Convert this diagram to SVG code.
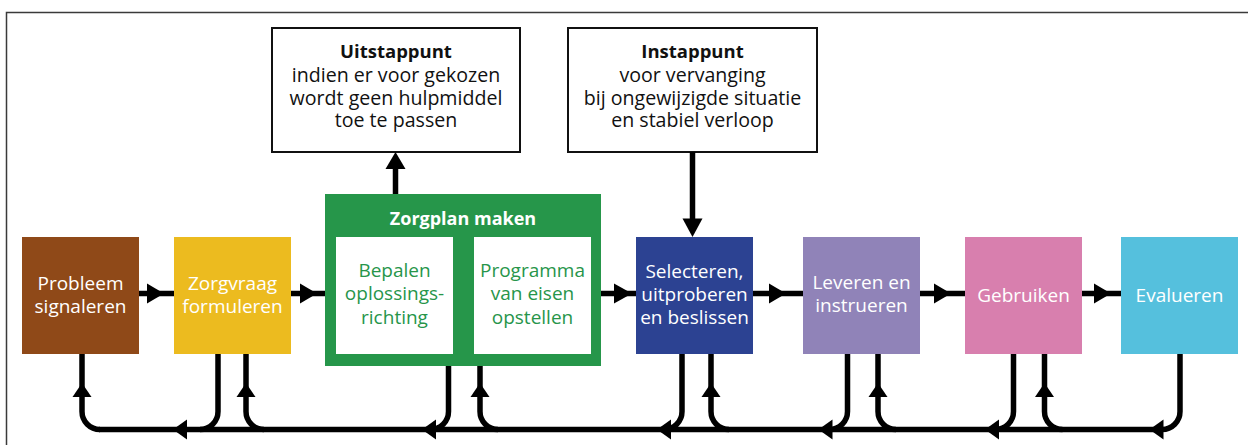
<svg xmlns="http://www.w3.org/2000/svg" width="1248" height="445" viewBox="0 0 1248 445">
<style>
  text { font-family: "Open Sans", "Noto Sans", "Liberation Sans", sans-serif; text-anchor: middle; }
  .t { font-size: 19px; fill: #ffffff; }
  .g { font-size: 19px; fill: #27954a; }
  .title { font-size: 18px; font-weight: bold; fill: #ffffff; }
  .ib { font-size: 19.6px; fill: #111111; }
  .bold { font-size: 18.5px; font-weight: bold; }
  .info { fill: #ffffff; stroke: #111111; stroke-width: 2; }
  .ln { fill: none; stroke: #000000; stroke-width: 5.5; }
  .ah { fill: #000000; }
</style>
<rect x="6.5" y="12.5" width="1300" height="500" fill="#ffffff" stroke="#3a3a3a" stroke-width="1.5"/>

<g id="uitstappunt">
  <rect class="info" x="272" y="28" width="248" height="124"/>
  <text class="ib" x="396" y="58"><tspan class="bold" x="396" y="58">Uitstappunt</tspan><tspan x="396" y="81.5">indien er voor gekozen</tspan><tspan x="396" y="104.5">wordt geen hulpmiddel</tspan><tspan x="396" y="127">toe te passen</tspan></text>
</g>
<g id="instappunt">
  <rect class="info" x="568" y="28" width="249" height="124"/>
  <text class="ib" x="692.5" y="58"><tspan class="bold" x="692.5" y="58">Instappunt</tspan><tspan x="692.5" y="81.5">voor vervanging</tspan><tspan x="692.5" y="104.5">bij ongewijzigde situatie</tspan><tspan x="692.5" y="127">en stabiel verloop</tspan></text>
</g>

<g id="probleem">
  <rect x="22" y="237" width="117" height="117" fill="#8f4918"/>
  <text class="t" x="80.5" y="289.5"><tspan x="80.5" y="289.5">Probleem</tspan><tspan x="80.5" y="312.5">signaleren</tspan></text>
</g>
<g id="zorgvraag">
  <rect x="174" y="237" width="117" height="117" fill="#ecbb1f"/>
  <text class="t" x="232.5" y="289.5"><tspan x="232.5" y="289.5">Zorgvraag</tspan><tspan x="232.5" y="312.5">formuleren</tspan></text>
</g>
<g id="zorgplan">
  <rect x="325" y="194" width="276" height="172" fill="#26964a"/>
  <text class="title" x="463" y="224.5">Zorgplan maken</text>
  <g id="bepalen">
    <rect x="336" y="237" width="117" height="117" fill="#ffffff"/>
    <text class="g" x="394.5" y="277"><tspan x="394.5" y="277">Bepalen</tspan><tspan x="394.5" y="300">oplossings-</tspan><tspan x="394.5" y="323.5">richting</tspan></text>
  </g>
  <g id="programma">
    <rect x="474" y="237" width="117" height="117" fill="#ffffff"/>
    <text class="g" x="532.5" y="277"><tspan x="532.5" y="277">Programma</tspan><tspan x="532.5" y="300">van eisen</tspan><tspan x="532.5" y="323.5">opstellen</tspan></text>
  </g>
</g>
<g id="selecteren">
  <rect x="636" y="237" width="117" height="117" fill="#2c4292"/>
  <text class="t" x="694.5" y="277.5"><tspan x="694.5" y="277.5">Selecteren,</tspan><tspan x="694.5" y="300.5">uitproberen</tspan><tspan x="694.5" y="323.5">en beslissen</tspan></text>
</g>
<g id="leveren">
  <rect x="803" y="237" width="117" height="117" fill="#9083b8"/>
  <text class="t" x="861.5" y="289"><tspan x="861.5" y="289">Leveren en</tspan><tspan x="861.5" y="312">instrueren</tspan></text>
</g>
<g id="gebruiken">
  <rect x="965" y="237" width="117" height="117" fill="#d87fae"/>
  <text class="t" x="1023.5" y="301.5">Gebruiken</text>
</g>
<g id="evalueren">
  <rect x="1121" y="237" width="117" height="117" fill="#55c0dd"/>
  <text class="t" x="1179.5" y="301.5">Evalueren</text>
</g>

<g id="connectors">
  <line class="ln" x1="395.5" y1="194" x2="395.5" y2="166"/>
  <polygon class="ah" points="395.5,152 385.5,169 405.5,169"/>
  <line class="ln" x1="692.5" y1="152" x2="692.5" y2="222"/>
  <polygon class="ah" points="692.5,237 682.5,218.5 702.5,218.5"/>

  <line class="ln" x1="139" y1="293.5" x2="174" y2="293.5"/>
  <polygon class="ah" points="164,293.5 147,283.5 147,303.5"/>
  <line class="ln" x1="291" y1="293.5" x2="325" y2="293.5"/>
  <polygon class="ah" points="317,293.5 300,283.5 300,303.5"/>
  <line class="ln" x1="601" y1="293.5" x2="636" y2="293.5"/>
  <polygon class="ah" points="632,293.5 614,283.5 614,303.5"/>
  <line class="ln" x1="753" y1="293.5" x2="803" y2="293.5"/>
  <polygon class="ah" points="786,293.5 769,283.5 769,303.5"/>
  <line class="ln" x1="920" y1="293.5" x2="965" y2="293.5"/>
  <polygon class="ah" points="951,293.5 934,283.5 934,303.5"/>
  <line class="ln" x1="1082" y1="293.5" x2="1121" y2="293.5"/>
  <polygon class="ah" points="1111,293.5 1094,283.5 1094,303.5"/>

  <line class="ln" x1="99" y1="429.5" x2="1163" y2="429.5"/>

  <path class="ln" d="M 100 429.5 A 18 18 0 0 1 82 411.5 V 354"/>
  <polygon class="ah" points="82,383 72.5,397 91.5,397"/>

  <path class="ln" d="M 218 354 V 411.5 A 18 18 0 0 1 200 429.5"/>
  <polygon class="ah" points="173,429.5 187,419.5 187,439.5"/>
  <path class="ln" d="M 264 429.5 A 18 18 0 0 1 246 411.5 V 354"/>
  <polygon class="ah" points="246,383 236.5,397 255.5,397"/>

  <path class="ln" d="M 448.5 366 V 411.5 A 18 18 0 0 1 430.5 429.5"/>
  <polygon class="ah" points="422,429.5 436,419.5 436,439.5"/>
  <path class="ln" d="M 498 429.5 A 18 18 0 0 1 480 411.5 V 366"/>
  <polygon class="ah" points="480,383 470.5,397 489.5,397"/>

  <path class="ln" d="M 682 354 V 411.5 A 18 18 0 0 1 664 429.5"/>
  <polygon class="ah" points="657,429.5 671,419.5 671,439.5"/>
  <path class="ln" d="M 729 429.5 A 18 18 0 0 1 711 411.5 V 354"/>
  <polygon class="ah" points="711,383 701.5,397 720.5,397"/>

  <path class="ln" d="M 847.5 354 V 411.5 A 18 18 0 0 1 829.5 429.5"/>
  <polygon class="ah" points="818.5,429.5 832.5,419.5 832.5,439.5"/>
  <path class="ln" d="M 896 429.5 A 18 18 0 0 1 878 411.5 V 354"/>
  <polygon class="ah" points="878,383 868.5,397 887.5,397"/>

  <path class="ln" d="M 1013.5 354 V 411.5 A 18 18 0 0 1 995.5 429.5"/>
  <polygon class="ah" points="985,429.5 999,419.5 999,439.5"/>
  <path class="ln" d="M 1062.5 429.5 A 18 18 0 0 1 1044.5 411.5 V 354"/>
  <polygon class="ah" points="1044.5,383 1035,397 1054,397"/>

  <path class="ln" d="M 1180 354 V 411.5 A 18 18 0 0 1 1162 429.5"/>
  <polygon class="ah" points="1149.5,429.5 1163.5,419.5 1163.5,439.5"/>
</g>
</svg>
